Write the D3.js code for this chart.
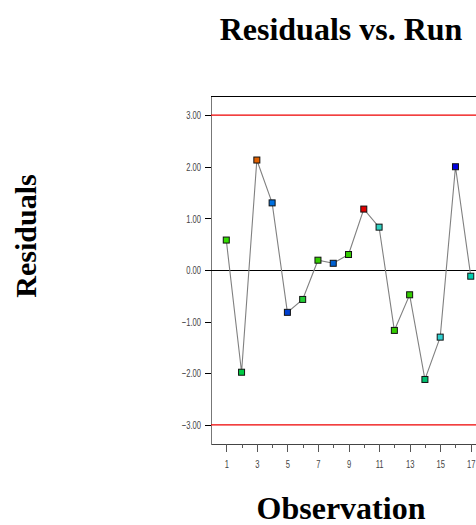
<!DOCTYPE html>
<meta charset="utf-8">
<head>
<style>
  body { margin: 0; background: #fff; }
  .title { font: bold 32px "Liberation Serif", "Times New Roman", serif; }
  .tick text { font: 11.5px "Liberation Sans", Arial, sans-serif; fill: #444; }
  .axis path, .axis line { shape-rendering: crispEdges; }
</style>
</head>
<body>
<script src="https://d3js.org/d3.v7.min.js"></script>
<script>
// Run order and residuals (only runs 1-17 are visible)
var runs = [1, 2, 3, 4, 5, 6, 7, 8, 9, 10, 11, 12, 13, 14, 15, 16, 17];
var residuals = [0.58, -1.98, 2.13, 1.30, -0.82, -0.57, 0.19, 0.13, 0.30, 1.18, 0.83, -1.17, -0.48, -2.12, -1.30, 2.00, -0.12];
var pointColors = ["#33dd00", "#00cc44", "#e06000", "#0070e0", "#0040d0", "#22cc33", "#33cc00", "#0060d0", "#33cc00",
                   "#e00000", "#30d0c0", "#33cc00", "#33cc00", "#00c070", "#30d0d0", "#0000e0", "#00d0b0"];
var yTicks = [-3, -2, -1, 0, 1, 2, 3];
var xTicks = d3.range(1, 21);
var limits = [3, -3];

var W = 476, H = 525;
var plotLeft = 211, plotTop = 96, plotBottom = 444;

var svg = d3.select("body").append("svg")
    .attr("width", W)
    .attr("height", H);

var x = d3.scaleLinear().domain([0, 20]).range([plotLeft, plotLeft + 20 * 15.28]);
var y = d3.scaleLinear().domain([-3.37, 3.37]).range([plotBottom, plotTop]);

// snap a horizontal rule onto a pixel row
function row(v) { return Math.round(v) + 0.5; }

// condensed look for tick labels
function narrow(sel) {
    sel.selectAll(".tick text")
        .attr("lengthAdjust", "spacingAndGlyphs")
        .attr("textLength", function() { return this.getComputedTextLength() * 0.66; });
}

//Top border
svg.append("line")
    .attr("x1", plotLeft).attr("x2", W + 50)
    .attr("y1", row(plotTop)).attr("y2", row(plotTop))
    .attr("stroke", "#000");

//Y axis
var gy = svg.append("g")
    .attr("class", "axis")
    .attr("transform", "translate(" + plotLeft + ",0)")
    .call(d3.axisLeft(y).tickValues(yTicks).tickSize(6).tickSizeOuter(0).tickPadding(4)
        .tickFormat(d3.format(".2f")));
gy.select(".domain").attr("stroke", "#777");
gy.selectAll(".tick line").attr("stroke", "#000");
narrow(gy);

//X axis, long ticks on odd runs
var gx = svg.append("g")
    .attr("class", "axis")
    .attr("transform", "translate(0," + plotBottom + ")")
    .call(d3.axisBottom(x).tickValues(xTicks).tickSize(8).tickSizeOuter(0).tickPadding(8)
        .tickFormat(function(d) { return d % 2 ? d : ""; }));
gx.select(".domain").attr("stroke", "#444");
gx.selectAll(".tick line")
    .attr("stroke", "#555")
    .attr("y2", function(d) { return d % 2 ? 8 : 4; });
narrow(gx);

//Control limits and zero line
svg.selectAll(".limit")
    .data(limits)
    .enter().append("line")
    .attr("x1", plotLeft).attr("x2", W + 50)
    .attr("y1", function(d) { return y(d); })
    .attr("y2", function(d) { return y(d); })
    .attr("stroke", "#ee0000")
    .attr("stroke-width", 1.2);

svg.append("line")
    .attr("x1", plotLeft).attr("x2", W + 50)
    .attr("y1", row(y(0))).attr("y2", row(y(0)))
    .attr("stroke", "#000");

//Connecting line
svg.append("path")
    .datum(runs)
    .attr("fill", "none")
    .attr("stroke", "#808080")
    .attr("stroke-width", 1.1)
    .attr("d", d3.line()
        .x(function(d) { return x(d); })
        .y(function(d, i) { return y(residuals[i]); }));

//Square markers
svg.selectAll(".pt")
    .data(runs)
    .enter().append("rect")
    .attr("x", function(d) { return x(d) - 3; })
    .attr("y", function(d, i) { return y(residuals[i]) - 3; })
    .attr("width", 6)
    .attr("height", 6)
    .attr("fill", function(d, i) { return pointColors[i]; })
    .attr("stroke", "#111")
    .attr("stroke-width", 1);

//Titles
svg.append("text")
    .attr("class", "title")
    .attr("x", 341).attr("y", 40)
    .attr("text-anchor", "middle")
    .text("Residuals vs. Run");

svg.append("text")
    .attr("class", "title")
    .attr("x", 341).attr("y", 519)
    .attr("text-anchor", "middle")
    .text("Observation");

svg.append("text")
    .attr("class", "title")
    .attr("transform", "translate(36,236) rotate(-90)")
    .attr("text-anchor", "middle")
    .style("font-size", "30px")
    .text("Residuals");
</script>
</body>
